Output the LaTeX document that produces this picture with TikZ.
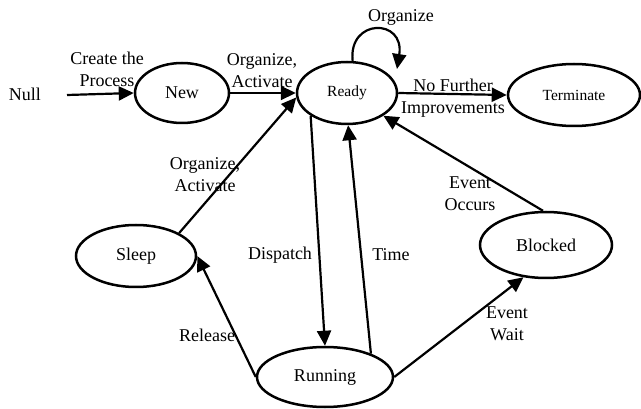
\documentclass[tikz,border=0pt]{standalone}
\usepackage{fontspec}
\setmainfont{Liberation Serif}
\usetikzlibrary{arrows.meta,shapes.geometric}
\tikzset{
  state/.style={draw, ellipse, line width=2.5pt, inner sep=0pt, font=\fontsize{18}{22}\selectfont},
  smallstate/.style={state, font=\fontsize{15.5}{19}\selectfont},
  lbl/.style={align=center, inner sep=0pt, font=\fontsize{18}{22}\selectfont},
  conn/.style={line width=2.2pt, -{Triangle[length=15pt,width=14pt]}},
}
\begin{document}
\begin{tikzpicture}[x=1pt,y=-1pt]
\useasboundingbox (0,0) rectangle (641,409);
% states
\node[state, minimum width=94pt, minimum height=60pt] (New) at (182,93) {New};
\node[smallstate, minimum width=100pt, minimum height=62pt] (Ready) at (347,93) {Ready};
\node[smallstate, minimum width=132pt, minimum height=62pt] (Terminate) at (574,95) {Terminate};
\node[state, minimum width=120pt, minimum height=62pt] (Sleep) at (136,256) {Sleep};
\node[state, minimum width=132pt, minimum height=66pt] (Blocked) at (546,245) {Blocked};
\node[state, minimum width=136pt, minimum height=60pt] (Running) at (325,377) {Running};
\node[lbl] (Null) at (25,94) {Null};
\coordinate (nullout) at (67,95);
\coordinate (loopend) at (397,69);
% connectors
\draw[conn] (nullout) -- (New.west);
\draw[conn] (New.east) -- (Ready.west);
\draw[conn] (Ready.east) -- (Terminate.west);
\draw[conn] (Ready.80) .. controls (348,18) and (405,18) .. (loopend);
\draw[conn] (Ready.212) -- (Running.90);
\draw[conn] (Running.27) -- (Ready.272);
\draw[conn] (Blocked.95) -- (Ready.328);
\draw[conn] (Running.east) -- (Blocked.235);
\draw[conn] (Running.west) -- (Sleep.east);
\draw[conn] (Sleep.28) -- (Ready.185);
% labels
\node[lbl] (l1) at (107,69) {Create the\\Process};
\node[lbl] (l2) at (262,71) {Organize,\\Activate};
\node[lbl] (l3) at (401,17) {Organize};
\node[lbl] (l4) at (453,98) {No Further\\Improvements};
\node[lbl] (l5) at (205,175) {Organize,\\Activate};
\node[lbl] (l6) at (280,255) {Dispatch};
\node[lbl] (l7) at (391,255) {Time};
\node[lbl] (l8) at (470,194) {Event\\Occurs};
\node[lbl] (l9) at (507,324) {Event\\Wait};
\node[lbl] (l10) at (207,335) {Release};
\end{tikzpicture}
\end{document}
